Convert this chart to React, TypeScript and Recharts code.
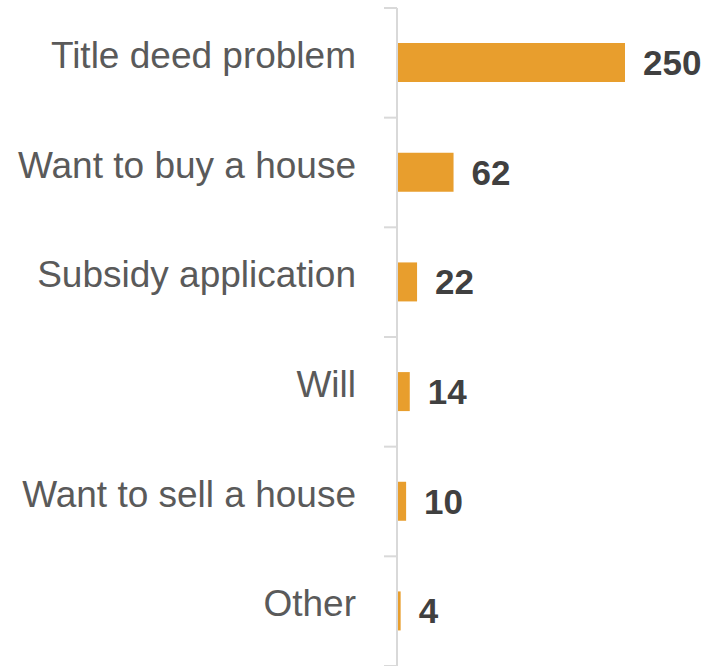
import { BarChart, Bar, XAxis, YAxis, LabelList } from 'recharts';

const categories = [
  "Title deed problem",
  "Want to buy a house",
  "Subsidy application",
  "Will",
  "Want to sell a house",
  "Other",
];
const counts = [250, 62, 22, 14, 10, 4];

const data = categories.map((name, i) => ({ name, count: counts[i] }));

const CHART_W = 705;
const CHART_H = 666;
const TOP = 8;
const PLOT_H = CHART_H - TOP;
const BAND = PLOT_H / categories.length;

function CategoryTick(props: any) {
  const { x, y, payload, index } = props;
  return (
    <g>
      <line x1={x - 13} x2={x} y1={y - BAND / 2} y2={y - BAND / 2} stroke="#d9d9d9" strokeWidth={2} />
      {index === categories.length - 1 && (
        <line x1={x - 13} x2={x} y1={y + BAND / 2} y2={y + BAND / 2} stroke="#d9d9d9" strokeWidth={2} />
      )}
      <text
        x={x - 41}
        y={y + 5}
        textAnchor="end"
        fill="#5a5a5a"
        fontSize={37}
        fontFamily="'Liberation Sans', Arial, sans-serif"
      >
        {payload.value}
      </text>
    </g>
  );
}

function App() {
  return (
    <div style={{ position: 'absolute', left: 0, top: 0, background: '#fff' }}>
      <BarChart
        width={CHART_W}
        height={CHART_H}
        data={data}
        layout="vertical"
        barCategoryGap="32%"
        margin={{ top: TOP, right: 80, left: 0, bottom: 0 }}
      >
        <XAxis type="number" domain={[0, 250]} hide />
        <YAxis
          type="category"
          dataKey="name"
          width={397}
          axisLine={{ stroke: '#d9d9d9', strokeWidth: 2 }}
          tickLine={false}
          tickSize={0}
          tickMargin={0}
          interval={0}
          tick={<CategoryTick />}
        />
        <Bar dataKey="count" fill="#E89E2D" isAnimationActive={false}>
          <LabelList
            dataKey="count"
            position="right"
            offset={18}
            fill="#404040"
            fontSize={35}
            fontWeight="bold"
            fontFamily="'Liberation Sans', Arial, sans-serif"
          />
        </Bar>
      </BarChart>
    </div>
  );
}

export default App;
